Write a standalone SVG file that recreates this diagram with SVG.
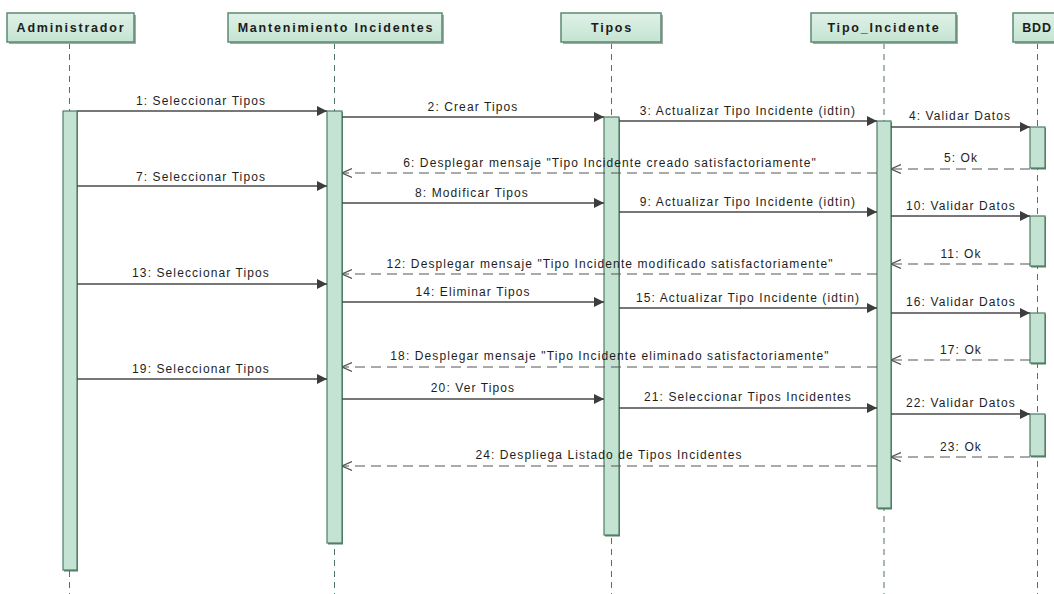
<svg xmlns="http://www.w3.org/2000/svg" width="1054" height="594" viewBox="0 0 1054 594">
<defs>
<linearGradient id="hg" x1="0" y1="0" x2="0" y2="1">
<stop offset="0" stop-color="#e0f1e7"/>
<stop offset="1" stop-color="#c4e4d2"/>
</linearGradient>
<marker id="solid" viewBox="0 0 10 10" refX="10" refY="5" markerWidth="11" markerHeight="10" markerUnits="userSpaceOnUse" orient="auto">
<path d="M0,0 L10,5 L0,10 z" fill="#3d3d3d"/>
</marker>
<marker id="open" viewBox="0 0 10 10" refX="10" refY="5" markerWidth="10" markerHeight="10" markerUnits="userSpaceOnUse" orient="auto">
<path d="M0,0.5 L10,5 L0,9.5" fill="none" stroke="#555" stroke-width="1.2"/>
</marker>
<style>
.hb{fill:url(#hg);stroke:#5b8a72;stroke-width:1.5}
.hs{fill:#a8a8a8}
.ht{font-family:"Liberation Sans",Arial,sans-serif;font-weight:bold;font-size:12.5px;letter-spacing:1.8px;fill:#1c1c1c;text-anchor:middle}
.life{stroke:#4f7563;stroke-width:1;stroke-dasharray:6 5;fill:none}
.act{fill:#c4e3d3;stroke:#4f7d66;stroke-width:1.2}
.as{fill:#55806a}
.msg{stroke:#4a4a4a;stroke-width:1.3;fill:none;marker-end:url(#solid)}
.ret{stroke:#555;stroke-width:1.2;stroke-dasharray:10 6;fill:none;marker-end:url(#open)}
.lbl{font-family:"Liberation Sans",Arial,sans-serif;font-size:12px;letter-spacing:1.1px;fill:#1e1e1e;text-anchor:middle}
</style>
</defs>
<rect width="1054" height="594" fill="#ffffff"/>

<g id="administrador">
<line class="life" x1="69.5" y1="43" x2="69.5" y2="594"/>
<rect class="hs" x="9" y="15" width="127" height="29"/>
<rect class="hb" x="7" y="13" width="127" height="29"/>
<text class="ht" x="71" y="32">Administrador</text>
<rect class="as" x="64" y="112" width="14" height="459.5"/>
<rect class="act" x="63" y="111" width="14" height="459"/>
</g>

<g id="mantenimiento">
<line class="life" x1="334.5" y1="43" x2="334.5" y2="594"/>
<rect class="hs" x="230" y="15" width="214" height="29"/>
<rect class="hb" x="228" y="13" width="214" height="29"/>
<text class="ht" x="336" y="32">Mantenimiento Incidentes</text>
<rect class="as" x="328" y="112" width="15" height="432.5"/>
<rect class="act" x="327" y="111" width="15" height="432"/>
</g>

<g id="tipos">
<line class="life" x1="611.5" y1="43" x2="611.5" y2="594"/>
<rect class="hs" x="563" y="15" width="100" height="29"/>
<rect class="hb" x="561" y="13" width="100" height="29"/>
<text class="ht" x="612" y="32">Tipos</text>
<rect class="as" x="605" y="118" width="15" height="418.5"/>
<rect class="act" x="604" y="117" width="15" height="418"/>
</g>

<g id="tipo_incidente">
<line class="life" x1="884" y1="43" x2="884" y2="594"/>
<rect class="hs" x="813" y="15" width="145" height="29"/>
<rect class="hb" x="811" y="13" width="145" height="29"/>
<text class="ht" x="884" y="32">Tipo_Incidente</text>
<rect class="as" x="878" y="122" width="14" height="387.5"/>
<rect class="act" x="877" y="121" width="14" height="387"/>
</g>

<g id="bdd">
<line class="life" x1="1037.5" y1="43" x2="1037.5" y2="594"/>
<rect class="hs" x="1015" y="15" width="50" height="29"/>
<rect class="hb" x="1013" y="13" width="50" height="29"/>
<text class="ht" x="1037" y="32" style="letter-spacing:0.8px">BDD</text>
<rect class="as" x="1031" y="128" width="15" height="41.5"/>
<rect class="act" x="1030" y="127" width="15" height="41"/>
<rect class="as" x="1031" y="217" width="15" height="50.5"/>
<rect class="act" x="1030" y="216" width="15" height="50"/>
<rect class="as" x="1031" y="314" width="15" height="50.5"/>
<rect class="act" x="1030" y="313" width="15" height="50"/>
<rect class="as" x="1031" y="415" width="15" height="42.5"/>
<rect class="act" x="1030" y="414" width="15" height="42"/>
</g>

<g id="connectors">
<line class="msg" x1="77" y1="111" x2="327" y2="111"/>
<text class="lbl" x="201" y="105">1: Seleccionar Tipos</text>
<line class="msg" x1="342" y1="117" x2="604" y2="117"/>
<text class="lbl" x="473" y="111">2: Crear Tipos</text>
<line class="msg" x1="619" y1="121" x2="877" y2="121"/>
<text class="lbl" x="748" y="115">3: Actualizar Tipo Incidente (idtin)</text>
<line class="msg" x1="891" y1="127" x2="1030" y2="127"/>
<text class="lbl" x="960" y="120">4: Validar Datos</text>
<line class="ret" x1="1030" y1="169" x2="891" y2="169"/>
<text class="lbl" x="961" y="162">5: Ok</text>
<line class="ret" x1="877" y1="173" x2="342" y2="173"/>
<text class="lbl" x="610" y="167">6: Desplegar mensaje "Tipo Incidente creado satisfactoriamente"</text>
<line class="msg" x1="77" y1="186" x2="327" y2="186"/>
<text class="lbl" x="201" y="181">7: Seleccionar Tipos</text>
<line class="msg" x1="342" y1="203" x2="604" y2="203"/>
<text class="lbl" x="472" y="197">8: Modificar Tipos</text>
<line class="msg" x1="619" y1="212" x2="877" y2="212"/>
<text class="lbl" x="748" y="206">9: Actualizar Tipo Incidente (idtin)</text>
<line class="msg" x1="891" y1="216" x2="1030" y2="216"/>
<text class="lbl" x="961" y="210">10: Validar Datos</text>
<line class="ret" x1="1030" y1="264" x2="891" y2="264"/>
<text class="lbl" x="961" y="258">11: Ok</text>
<line class="ret" x1="877" y1="274" x2="342" y2="274"/>
<text class="lbl" x="610" y="268">12: Desplegar mensaje "Tipo Incidente modificado satisfactoriamente"</text>
<line class="msg" x1="77" y1="284" x2="327" y2="284"/>
<text class="lbl" x="201" y="277">13: Seleccionar Tipos</text>
<line class="msg" x1="342" y1="302" x2="604" y2="302"/>
<text class="lbl" x="473" y="296">14: Eliminar Tipos</text>
<line class="msg" x1="619" y1="308" x2="877" y2="308"/>
<text class="lbl" x="748" y="302">15: Actualizar Tipo Incidente (idtin)</text>
<line class="msg" x1="891" y1="313" x2="1030" y2="313"/>
<text class="lbl" x="961" y="306">16: Validar Datos</text>
<line class="ret" x1="1030" y1="360" x2="891" y2="360"/>
<text class="lbl" x="961" y="354">17: Ok</text>
<line class="ret" x1="877" y1="367" x2="342" y2="367"/>
<text class="lbl" x="610" y="360">18: Desplegar mensaje "Tipo Incidente eliminado satisfactoriamente"</text>
<line class="msg" x1="77" y1="379" x2="327" y2="379"/>
<text class="lbl" x="201" y="373">19: Seleccionar Tipos</text>
<line class="msg" x1="342" y1="399" x2="604" y2="399"/>
<text class="lbl" x="473" y="392">20: Ver Tipos</text>
<line class="msg" x1="619" y1="408" x2="877" y2="408"/>
<text class="lbl" x="748" y="401">21: Seleccionar Tipos Incidentes</text>
<line class="msg" x1="891" y1="414" x2="1030" y2="414"/>
<text class="lbl" x="961" y="407">22: Validar Datos</text>
<line class="ret" x1="1030" y1="457" x2="891" y2="457"/>
<text class="lbl" x="961" y="451">23: Ok</text>
<line class="ret" x1="877" y1="466" x2="342" y2="466"/>
<text class="lbl" x="609" y="459">24: Despliega Listado de Tipos Incidentes</text>
</g>
</svg>
